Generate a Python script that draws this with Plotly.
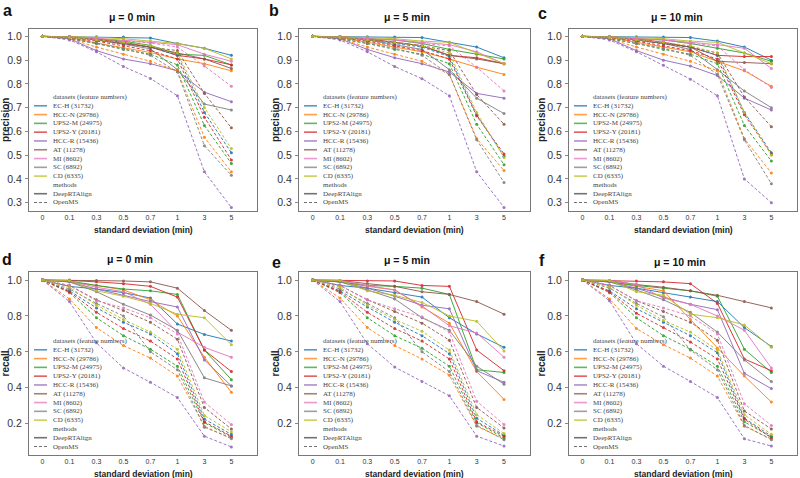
import plotly.graph_objects as go

SD_LABELS = ["0", "0.1", "0.3", "0.5", "0.7", "1", "3", "5"]
DATASETS = ["EC-H (31732)", "HCC-N (29786)", "UPS2-M (24975)", "UPS2-Y (20181)",
            "HCC-R (15436)", "AT (11278)", "MI (8602)", "SC (6892)", "CD (6335)"]
METHODS = ["DeepRTAlign", "OpenMS"]

# ---------------- precision, mu = 0 ----------------
P0_DEEP = [
    [1.0, 0.999, 0.998, 0.997, 0.993, 0.970, 0.950, 0.920],
    [1.0, 0.995, 0.972, 0.952, 0.932, 0.905, 0.885, 0.855],
    [1.0, 0.998, 0.990, 0.980, 0.962, 0.925, 0.920, 0.880],
    [1.0, 0.998, 0.988, 0.975, 0.955, 0.920, 0.905, 0.880],
    [1.0, 0.990, 0.940, 0.905, 0.885, 0.855, 0.765, 0.725],
    [1.0, 0.998, 0.985, 0.970, 0.955, 0.930, 0.905, 0.865],
    [1.0, 0.999, 0.992, 0.985, 0.975, 0.965, 0.925, 0.895],
    [1.0, 0.998, 0.985, 0.968, 0.948, 0.860, 0.715, 0.690],
    [1.0, 0.999, 0.996, 0.990, 0.980, 0.970, 0.950, 0.905],
]
P0_OPEN = [
    [1.0, 0.995, 0.985, 0.970, 0.955, 0.920, 0.680, 0.510],
    [1.0, 0.990, 0.955, 0.925, 0.895, 0.855, 0.575, 0.430],
    [1.0, 0.990, 0.970, 0.945, 0.925, 0.880, 0.625, 0.465],
    [1.0, 0.993, 0.980, 0.960, 0.940, 0.905, 0.660, 0.480],
    [1.0, 0.985, 0.935, 0.873, 0.823, 0.750, 0.430, 0.280],
    [1.0, 0.995, 0.985, 0.970, 0.955, 0.940, 0.760, 0.615],
    [1.0, 0.996, 0.990, 0.982, 0.972, 0.955, 0.875, 0.790],
    [1.0, 0.990, 0.970, 0.948, 0.920, 0.850, 0.540, 0.415],
    [1.0, 0.995, 0.985, 0.975, 0.960, 0.930, 0.700, 0.528],
]
# ---------------- precision, mu = 5 ----------------
P5_DEEP = [
    [1.0, 0.999, 0.998, 0.997, 0.995, 0.975, 0.955, 0.910],
    [1.0, 0.995, 0.975, 0.955, 0.935, 0.905, 0.870, 0.840],
    [1.0, 0.998, 0.990, 0.985, 0.970, 0.945, 0.925, 0.905],
    [1.0, 0.998, 0.990, 0.975, 0.960, 0.920, 0.910, 0.885],
    [1.0, 0.990, 0.945, 0.910, 0.885, 0.850, 0.760, 0.740],
    [1.0, 0.998, 0.985, 0.975, 0.960, 0.920, 0.905, 0.885],
    [1.0, 0.999, 0.990, 0.985, 0.975, 0.965, 0.935, 0.885],
    [1.0, 0.998, 0.985, 0.965, 0.945, 0.860, 0.740, 0.675],
    [1.0, 0.999, 0.995, 0.990, 0.980, 0.975, 0.930, 0.885],
]
P5_OPEN = [
    [1.0, 0.995, 0.985, 0.970, 0.955, 0.915, 0.670, 0.495],
    [1.0, 0.990, 0.955, 0.925, 0.895, 0.840, 0.570, 0.435],
    [1.0, 0.990, 0.970, 0.945, 0.925, 0.885, 0.630, 0.460],
    [1.0, 0.993, 0.980, 0.960, 0.940, 0.905, 0.665, 0.505],
    [1.0, 0.985, 0.935, 0.873, 0.822, 0.750, 0.430, 0.280],
    [1.0, 0.995, 0.985, 0.975, 0.960, 0.940, 0.755, 0.630],
    [1.0, 0.995, 0.990, 0.985, 0.970, 0.960, 0.870, 0.770],
    [1.0, 0.990, 0.970, 0.950, 0.920, 0.840, 0.565, 0.385],
    [1.0, 0.995, 0.985, 0.975, 0.960, 0.930, 0.680, 0.490],
]
# ---------------- precision, mu = 10 ----------------
P10_DEEP = [
    [1.0, 0.999, 0.998, 0.997, 0.995, 0.980, 0.955, 0.900],
    [1.0, 0.995, 0.975, 0.955, 0.935, 0.895, 0.855, 0.790],
    [1.0, 0.998, 0.990, 0.985, 0.970, 0.950, 0.930, 0.895],
    [1.0, 0.998, 0.990, 0.975, 0.955, 0.920, 0.915, 0.915],
    [1.0, 0.990, 0.940, 0.900, 0.875, 0.835, 0.740, 0.690],
    [1.0, 0.998, 0.985, 0.970, 0.955, 0.895, 0.890, 0.885],
    [1.0, 0.999, 0.990, 0.985, 0.975, 0.965, 0.950, 0.865],
    [1.0, 0.998, 0.985, 0.970, 0.945, 0.860, 0.770, 0.700],
    [1.0, 0.999, 0.995, 0.990, 0.980, 0.975, 0.930, 0.885],
]
P10_OPEN = [
    [1.0, 0.995, 0.985, 0.970, 0.955, 0.920, 0.680, 0.510],
    [1.0, 0.990, 0.955, 0.925, 0.895, 0.855, 0.570, 0.425],
    [1.0, 0.990, 0.970, 0.945, 0.925, 0.885, 0.625, 0.475],
    [1.0, 0.993, 0.980, 0.960, 0.940, 0.905, 0.670, 0.505],
    [1.0, 0.985, 0.935, 0.878, 0.820, 0.750, 0.400, 0.300],
    [1.0, 0.995, 0.985, 0.970, 0.955, 0.930, 0.745, 0.620],
    [1.0, 0.995, 0.990, 0.985, 0.970, 0.960, 0.860, 0.785],
    [1.0, 0.990, 0.970, 0.950, 0.920, 0.840, 0.565, 0.380],
    [1.0, 0.995, 0.985, 0.975, 0.960, 0.930, 0.680, 0.500],
]
# ---------------- recall, mu = 0 ----------------
R0_DEEP = [
    [1.0, 0.965, 0.950, 0.930, 0.900, 0.755, 0.697, 0.660],
    [1.0, 0.990, 0.970, 0.945, 0.890, 0.800, 0.570, 0.375],
    [1.0, 0.995, 0.970, 0.950, 0.940, 0.920, 0.610, 0.445],
    [1.0, 0.998, 0.990, 0.980, 0.965, 0.905, 0.610, 0.490],
    [1.0, 0.990, 0.950, 0.915, 0.880, 0.850, 0.555, 0.410],
    [1.0, 1.000, 0.997, 0.995, 0.990, 0.955, 0.830, 0.720],
    [1.0, 0.995, 0.960, 0.935, 0.865, 0.710, 0.625, 0.570],
    [1.0, 0.990, 0.935, 0.865, 0.805, 0.720, 0.455, 0.410],
    [1.0, 0.998, 0.940, 0.910, 0.870, 0.810, 0.790, 0.640],
]
R0_OPEN = [
    [1.0, 0.940, 0.845, 0.765, 0.700, 0.590, 0.225, 0.140],
    [1.0, 0.895, 0.735, 0.635, 0.565, 0.465, 0.185, 0.115],
    [1.0, 0.930, 0.790, 0.690, 0.615, 0.520, 0.205, 0.125],
    [1.0, 0.935, 0.820, 0.730, 0.660, 0.560, 0.210, 0.130],
    [1.0, 0.880, 0.650, 0.510, 0.430, 0.345, 0.130, 0.070],
    [1.0, 0.970, 0.890, 0.830, 0.765, 0.670, 0.290, 0.170],
    [1.0, 0.970, 0.885, 0.845, 0.790, 0.700, 0.320, 0.195],
    [1.0, 0.950, 0.870, 0.800, 0.600, 0.500, 0.180, 0.120],
    [1.0, 0.960, 0.860, 0.780, 0.710, 0.615, 0.245, 0.155],
]
# ---------------- recall, mu = 5 ----------------
R5_DEEP = [
    [1.0, 0.970, 0.955, 0.930, 0.905, 0.790, 0.700, 0.625],
    [1.0, 0.990, 0.965, 0.945, 0.850, 0.760, 0.490, 0.335],
    [1.0, 0.990, 0.970, 0.965, 0.955, 0.920, 0.500, 0.485],
    [1.0, 0.998, 0.995, 0.995, 0.970, 0.965, 0.610, 0.495],
    [1.0, 0.990, 0.955, 0.910, 0.860, 0.840, 0.495, 0.430],
    [1.0, 0.998, 0.980, 0.965, 0.935, 0.920, 0.880, 0.810],
    [1.0, 0.998, 0.970, 0.945, 0.855, 0.745, 0.705, 0.570],
    [1.0, 0.990, 0.945, 0.895, 0.790, 0.720, 0.520, 0.420],
    [1.0, 0.998, 0.940, 0.915, 0.875, 0.800, 0.770, 0.605],
]
R5_OPEN = [
    [1.0, 0.940, 0.850, 0.765, 0.690, 0.590, 0.230, 0.135],
    [1.0, 0.900, 0.735, 0.635, 0.560, 0.470, 0.185, 0.115],
    [1.0, 0.930, 0.790, 0.690, 0.620, 0.520, 0.205, 0.120],
    [1.0, 0.935, 0.820, 0.730, 0.660, 0.560, 0.210, 0.130],
    [1.0, 0.880, 0.645, 0.515, 0.435, 0.355, 0.130, 0.075],
    [1.0, 0.970, 0.890, 0.825, 0.760, 0.665, 0.290, 0.175],
    [1.0, 0.970, 0.890, 0.840, 0.795, 0.710, 0.325, 0.195],
    [1.0, 0.950, 0.870, 0.790, 0.600, 0.490, 0.190, 0.110],
    [1.0, 0.960, 0.860, 0.780, 0.715, 0.610, 0.250, 0.145],
]
# ---------------- recall, mu = 10 ----------------
R10_DEEP = [
    [1.0, 0.970, 0.955, 0.930, 0.905, 0.880, 0.735, 0.630],
    [1.0, 0.990, 0.965, 0.940, 0.780, 0.620, 0.465, 0.320],
    [1.0, 0.990, 0.970, 0.955, 0.940, 0.910, 0.615, 0.485],
    [1.0, 0.998, 0.995, 0.990, 0.980, 0.870, 0.560, 0.495],
    [1.0, 0.990, 0.955, 0.905, 0.865, 0.835, 0.480, 0.395],
    [1.0, 0.998, 0.975, 0.960, 0.940, 0.915, 0.880, 0.845],
    [1.0, 0.998, 0.975, 0.900, 0.865, 0.800, 0.720, 0.510],
    [1.0, 0.990, 0.945, 0.890, 0.820, 0.710, 0.555, 0.435],
    [1.0, 0.998, 0.935, 0.915, 0.810, 0.790, 0.750, 0.625],
]
R10_OPEN = [
    [1.0, 0.940, 0.840, 0.765, 0.690, 0.595, 0.230, 0.130],
    [1.0, 0.895, 0.730, 0.640, 0.565, 0.465, 0.185, 0.115],
    [1.0, 0.930, 0.790, 0.690, 0.615, 0.520, 0.210, 0.125],
    [1.0, 0.935, 0.815, 0.735, 0.655, 0.560, 0.225, 0.120],
    [1.0, 0.885, 0.645, 0.520, 0.435, 0.345, 0.115, 0.075],
    [1.0, 0.970, 0.885, 0.825, 0.765, 0.665, 0.270, 0.170],
    [1.0, 0.970, 0.885, 0.845, 0.800, 0.700, 0.310, 0.190],
    [1.0, 0.955, 0.870, 0.795, 0.610, 0.500, 0.190, 0.110],
    [1.0, 0.960, 0.860, 0.775, 0.710, 0.610, 0.250, 0.140],
]

PANELS = [
    ("a", "μ = 0 min", "precision", P0_DEEP, P0_OPEN),
    ("b", "μ = 5 min", "precision", P5_DEEP, P5_OPEN),
    ("c", "μ = 10 min", "precision", P10_DEEP, P10_OPEN),
    ("d", "μ = 0 min", "recall", R0_DEEP, R0_OPEN),
    ("e", "μ = 5 min", "recall", R5_DEEP, R5_OPEN),
    ("f", "μ = 10 min", "recall", R10_DEEP, R10_OPEN),
]

# ---------------- styling / layout ----------------
COLORS = ["#1f77b4", "#ff7f0e", "#2ca02c", "#d62728", "#9467bd",
          "#8c564b", "#e377c2", "#7f7f7f", "#bcbd22"]
W, H = 800, 478
COLS_PX = [(29, 257), (299, 530), (569, 797)]
ROWS_PX = [(29, 211), (272, 455)]
TITLE_POS = [(132, 17), (407, 17), (677, 17), (130, 259), (407, 260), (680, 262)]
LETTER_POS = [(7, 10), (274, 10), (542, 13), (7, 259), (276, 262), (542, 260)]
YTITLE_X = [5, 275, 541]
SANS = "Liberation Sans, Arial, sans-serif"
SERIF = "Liberation Serif, Times New Roman, serif"


def px(x):
    return x / W


def py(y):
    return 1 - y / H


fig = go.Figure()
annotations = []
shapes = []

for i, (letter, title, metric, deep, opn) in enumerate(PANELS):
    r, c = divmod(i, 3)
    idx = i + 1
    xa = "x" if idx == 1 else f"x{idx}"
    ya = "y" if idx == 1 else f"y{idx}"
    L, R = COLS_PX[c]
    T, B = ROWS_PX[r]

    for method_vals, dash in ((deep, "solid"), (opn, "3px,2px")):
        for d, vals in enumerate(method_vals):
            fig.add_trace(go.Scatter(
                x=SD_LABELS, y=vals, mode="lines+markers",
                line=dict(color=COLORS[d], width=1, dash=dash),
                marker=dict(color=COLORS[d], size=3),
                opacity=0.9,
                xaxis=xa, yaxis=ya, showlegend=False, hoverinfo="skip"))

    axis_common = dict(showline=True, linecolor="#777", linewidth=1, mirror=True,
                       showgrid=False, zeroline=False, tickcolor="#888", tickwidth=1)
    fig.layout[f"xaxis{'' if idx == 1 else idx}"] = dict(
        axis_common, domain=[px(L), px(R)], anchor=ya, type="category",
        range=[-0.5, 7.95], ticks="", tickfont=dict(family=SANS, size=7, color="#333"),
        ticklabelstandoff=0)
    if metric == "precision":
        yr, tv = [0.265, 1.031], [0.3, 0.4, 0.5, 0.6, 0.7, 0.8, 0.9, 1.0]
    else:
        yr, tv = [0.025, 1.045], [0.2, 0.4, 0.6, 0.8, 1.0]
    fig.layout[f"yaxis{'' if idx == 1 else idx}"] = dict(
        axis_common, domain=[py(B), py(T)], anchor=xa, range=yr,
        tickvals=tv, tickformat=".1f", ticks="outside", ticklen=3,
        tickfont=dict(family=SANS, size=10.5, color="#333"), ticklabelstandoff=1)

    # titles
    tx, ty = TITLE_POS[i]
    annotations.append(dict(text=f"<b>{title}</b>", x=px(tx), y=py(ty), xref="paper", yref="paper",
                            showarrow=False, xanchor="center", yanchor="middle",
                            font=dict(family=SANS, size=10.5, color="#111")))
    lx, ly = LETTER_POS[i]
    annotations.append(dict(text=f"<b>{letter}</b>", x=px(lx), y=py(ly), xref="paper", yref="paper",
                            showarrow=False, xanchor="center", yanchor="middle",
                            font=dict(family=SANS, size=16, color="#111")))
    annotations.append(dict(text="<b>standard deviation (min)</b>", x=px((L + R) / 2), y=py(B + 18.5),
                            xref="paper", yref="paper", showarrow=False,
                            xanchor="center", yanchor="middle",
                            font=dict(family=SANS, size=8.5, color="#222")))
    annotations.append(dict(text=f"<b>{metric}</b>", x=px(YTITLE_X[c]), y=py((T + B) / 2),
                            xref="paper", yref="paper", showarrow=False, textangle=-90,
                            xanchor="center", yanchor="middle",
                            font=dict(family=SANS, size=10, color="#222")))

    # hand-built legend inside the panel (lower left)
    top = B - 114
    step = (114 - 8.5) / 12
    items = [("datasets (feature numbers)", None, None)]
    items += [(name, COLORS[d], "solid") for d, name in enumerate(DATASETS)]
    items += [("methods", None, None), (METHODS[0], "#444", "solid"), (METHODS[1], "#444", "3px,2px")]
    for j, (label, col, dash) in enumerate(items):
        yy = top + j * step
        annotations.append(dict(text=label, x=px(L + 22), y=py(yy), xref="paper", yref="paper",
                                showarrow=False, xanchor="left", yanchor="middle",
                                font=dict(family=SERIF, size=7, color="#444")))
        if col is not None:
            shapes.append(dict(type="line", xref="paper", yref="paper",
                               x0=px(L + 5), x1=px(L + 18), y0=py(yy), y1=py(yy),
                               opacity=0.75,
                               line=dict(color=col, width=1.6 if dash == "solid" else 1.1,
                                         dash=dash)))

fig.update_layout(width=W, height=H, margin=dict(l=0, r=0, t=0, b=0),
                  paper_bgcolor="white", plot_bgcolor="white",
                  annotations=annotations, shapes=shapes, showlegend=False)

fig.write_html("out.html", config={"displayModeBar": False},
               post_script="document.body.style.margin='0';document.body.style.overflow='hidden';")
